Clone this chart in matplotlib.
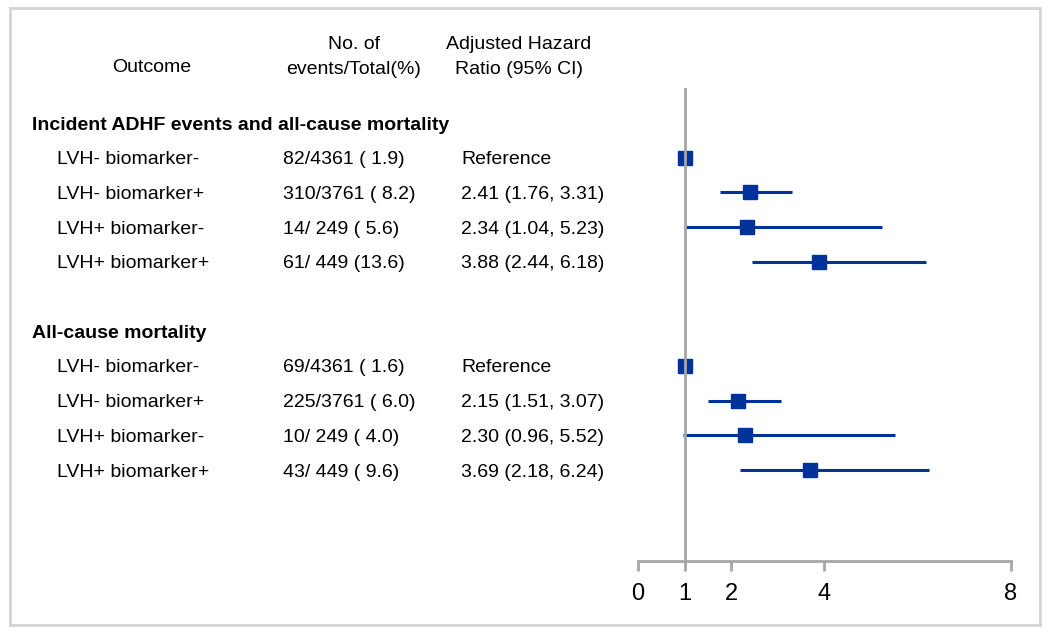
import numpy as np
import matplotlib
matplotlib.use("Agg")
import matplotlib.pyplot as plt
from matplotlib.patches import Rectangle
from matplotlib.transforms import blended_transform_factory

plt.rcParams['font.family'] = ['Liberation Sans', 'DejaVu Sans']

# ---- data ----
group_titles = ["Incident ADHF events and all-cause mortality", "All-cause mortality"]
row_labels = ["LVH- biomarker-", "LVH- biomarker+", "LVH+ biomarker-", "LVH+ biomarker+"]
events_g1 = ["82/4361 ( 1.9)", "310/3761 ( 8.2)", "14/ 249 ( 5.6)", "61/ 449 (13.6)"]
events_g2 = ["69/4361 ( 1.6)", "225/3761 ( 6.0)", "10/ 249 ( 4.0)", "43/ 449 ( 9.6)"]
hr_g1 = [1.0, 2.41, 2.34, 3.88]
lo_g1 = [np.nan, 1.76, 1.04, 2.44]
hi_g1 = [np.nan, 3.31, 5.23, 6.18]
hr_g2 = [1.0, 2.15, 2.30, 3.69]
lo_g2 = [np.nan, 1.51, 0.96, 2.18]
hi_g2 = [np.nan, 3.07, 5.52, 6.24]
xticks = [0, 1, 2, 4, 8]

W, H = 1050, 635
fig = plt.figure(figsize=(W / 100, H / 100), dpi=100)

def fx(px):
    return px / W

def fy(py):
    return 1 - py / H

# axes placed in pixel geometry
ax_l, ax_r, ax_t, ax_b = 638, 1010.7, 88, 561
ax = fig.add_axes([fx(ax_l), fy(ax_b), (ax_r - ax_l) / W, (ax_b - ax_t) / H])
ax.set_xlim(0, 8)
slot_px = 34.7
y0 = 123
ax.set_ylim((ax_b - y0) / slot_px, (ax_t - y0) / slot_px)

for s in ['left', 'right', 'top']:
    ax.spines[s].set_visible(False)
ax.spines['bottom'].set_color('#a6a6a6')
ax.spines['bottom'].set_linewidth(2)
ax.set_yticks([])
ax.set_xticks(xticks)
ax.set_xticklabels([str(t) for t in xticks])
ax.tick_params(axis='x', direction='out', length=7, width=2, color='#a6a6a6',
               labelsize=17, pad=9)
ax.patch.set_alpha(0)

blue = '#003399'
tt = blended_transform_factory(fig.transFigure, ax.transData)

fs = 14
toff = 0.06
groups = [
    (group_titles[0], events_g1, hr_g1, lo_g1, hi_g1, 0),
    (group_titles[1], events_g2, hr_g2, lo_g2, hi_g2, 6),
]
for title, ev, hr, lo, hi, start in groups:
    ax.text(fx(32), start + toff, title, transform=tt, fontsize=fs, fontweight='bold',
            ha='left', va='center')
    for i in range(4):
        yy = start + 1 + i
        ax.text(fx(57), yy + toff, row_labels[i], transform=tt, fontsize=fs, ha='left', va='center')
        ax.text(fx(283), yy + toff, ev[i], transform=tt, fontsize=fs, ha='left', va='center')
        if np.isnan(lo[i]):
            hrtxt = "Reference"
        else:
            hrtxt = f"{hr[i]:.2f} ({lo[i]:.2f}, {hi[i]:.2f})"
        ax.text(fx(461), yy + toff, hrtxt, transform=tt, fontsize=fs, ha='left', va='center')
        if not np.isnan(lo[i]):
            ax.plot([lo[i], hi[i]], [yy, yy], color=blue, lw=2.2, solid_capstyle='butt',
                    zorder=3, clip_on=False)
        ax.plot([hr[i]], [yy], marker='s', ms=10.5, color=blue, mec=blue, zorder=4,
                clip_on=False)

ax.axvline(1, color='#a6a6a6', lw=2, zorder=5)

# column headers
fig.text(fx(152), fy(68), "Outcome", fontsize=fs, ha='center', va='center')
fig.text(fx(354), fy(57), "No. of\nevents/Total(%)", fontsize=fs, ha='center',
         va='center', multialignment='center', linespacing=1.55)
fig.text(fx(519), fy(57), "Adjusted Hazard\nRatio (95% CI)", fontsize=fs, ha='center',
         va='center', multialignment='center', linespacing=1.55)

# outer frame
fig.patches.append(Rectangle((fx(10), fy(625)), fx(1040) - fx(10), fy(8) - fy(625),
                             transform=fig.transFigure, fill=False,
                             edgecolor='#d4d4d4', lw=2))

fig.savefig("out.png", dpi=100)
